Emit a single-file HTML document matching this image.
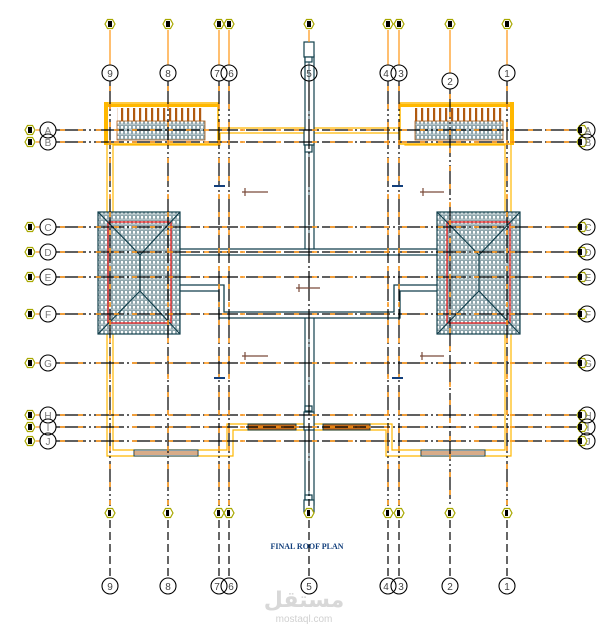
<!DOCTYPE html>
<html><head><meta charset="utf-8"><style>
html,body{margin:0;padding:0;background:#fff;}
svg{display:block;font-family:"Liberation Sans",sans-serif;}
</style></head><body>
<svg width="607" height="634" viewBox="0 0 607 634" xmlns="http://www.w3.org/2000/svg">
<defs>
<pattern id="tile" width="8" height="5" patternUnits="userSpaceOnUse">
<rect width="8" height="5" fill="#e6ecee"/>
<rect x="0.5" y="0.5" width="3" height="3.6" fill="#fff" stroke="#8fa6ad" stroke-width="1"/>
<rect x="4.5" y="0.5" width="3" height="3.6" fill="#fff" stroke="#8fa6ad" stroke-width="1"/>
</pattern>
<pattern id="bars" width="6" height="20" patternUnits="userSpaceOnUse">
<rect x="1" y="0" width="2.2" height="20" fill="#b05a10"/>
</pattern>
</defs>

<!-- yellow walls -->
<g fill="none" stroke="#ffb800" stroke-width="1.2">
<polyline points="218,128 404,128"/>
<polyline points="220,133 220,145 113,145 113,450 227,450 227,424 392,424 392,450 505,450 505,145 405,145 405,133"/>
<polyline points="220,133 405,133"/>
<polyline points="107,145 107,456 233,456 233,430 386,430 386,456 511,456 511,145"/>
</g>

<!-- top boxes -->
<g>
<rect x="105" y="103" width="113" height="41" fill="#fff" stroke="#ffb800" stroke-width="1.5"/>
<rect x="104" y="102" width="4" height="43" fill="#ffb800"/>
<rect x="108" y="104" width="110" height="3" fill="#ffb800"/>
<rect x="117" y="108" width="88" height="13" fill="url(#bars)"/>
<rect x="117" y="121" width="88" height="19" fill="url(#tile)" stroke="#b05a10" stroke-width="0.8"/>
</g>
<g>
<rect x="400" y="103" width="113" height="41" fill="#fff" stroke="#ffb800" stroke-width="1.5"/>
<rect x="510" y="102" width="4" height="43" fill="#ffb800"/>
<rect x="400" y="104" width="110" height="3" fill="#ffb800"/>
<rect x="415" y="108" width="88" height="13" fill="url(#bars)"/>
<rect x="415" y="121" width="88" height="19" fill="url(#tile)" stroke="#b05a10" stroke-width="0.8"/>
</g>

<!-- windows -->
<g>
<rect x="134" y="450" width="64" height="6" fill="#fff" stroke="#123f4c"/>
<line x1="134" y1="452" x2="198" y2="452" stroke="#b05a10"/><line x1="134" y1="454" x2="198" y2="454" stroke="#b05a10"/>
<rect x="421" y="450" width="64" height="6" fill="#fff" stroke="#123f4c"/>
<line x1="421" y1="452" x2="485" y2="452" stroke="#b05a10"/><line x1="421" y1="454" x2="485" y2="454" stroke="#b05a10"/>
<rect x="248" y="424" width="48" height="6" fill="#c26a1a" stroke="#123f4c"/>
<line x1="248" y1="427" x2="296" y2="427" stroke="#000"/>
<rect x="323" y="424" width="47" height="6" fill="#c26a1a" stroke="#123f4c"/>
<line x1="323" y1="427" x2="370" y2="427" stroke="#000"/>
</g>

<!-- central column -->
<g fill="#fff" stroke="#123f4c" stroke-width="1.2">
<rect x="305" y="55" width="9" height="450"/>
<line x1="309" y1="58" x2="309" y2="502" stroke="#123f4c" stroke-width="0.8"/>
<rect x="304" y="42" width="10" height="15"/>
<rect x="305" y="57" width="7" height="5"/>
<rect x="304" y="130" width="10" height="15"/>
<rect x="305" y="145" width="7" height="7"/>
<rect x="305" y="406" width="7" height="5"/>
<rect x="304" y="412" width="10" height="18"/>
<rect x="305" y="495" width="7" height="5"/>
<rect x="304" y="500" width="10" height="12"/>
</g>

<!-- corridor -->
<g fill="none" stroke="#123f4c" stroke-width="1.3">
<polygon points="166,249 452,249 452,291 400,291 400,318 219,318 219,291 166,291" fill="#fff"/>
<polygon points="171,255 447,255 447,285 394,285 394,312 224,312 224,285 171,285"/>
</g>

<!-- tiled blocks -->
<g stroke="#123f4c" fill="none" stroke-width="1.2">
<rect x="98" y="212" width="82" height="122" fill="url(#tile)"/>
<rect x="108" y="222" width="63" height="101" stroke="#ee1111"/>
<polyline points="98,212 140,255 180,212"/><polyline points="98,334 140,291 180,334"/>
<line x1="140" y1="255" x2="140" y2="291"/>
<rect x="437" y="212" width="83" height="122" fill="url(#tile)"/>
<rect x="447" y="222" width="63" height="101" stroke="#ee1111"/>
<polyline points="437,212 479,255 520,212"/><polyline points="437,334 479,291 520,334"/>
<line x1="479" y1="255" x2="479" y2="291"/>
</g>

<!-- grid lines horizontal -->
<g stroke-width="1.2">
<g stroke="#000" stroke-dasharray="30 3 2 3">
<line x1="56" y1="130" x2="578" y2="130"/><line x1="56" y1="142" x2="578" y2="142"/>
<line x1="56" y1="227" x2="578" y2="227"/><line x1="56" y1="252" x2="578" y2="252"/>
<line x1="56" y1="277" x2="578" y2="277"/><line x1="56" y1="314" x2="578" y2="314"/>
<line x1="56" y1="363" x2="578" y2="363"/><line x1="56" y1="415" x2="578" y2="415"/>
<line x1="56" y1="427" x2="578" y2="427"/><line x1="56" y1="441" x2="578" y2="441"/>
</g>
<g stroke="#ff9410" stroke-dasharray="5 13" stroke-width="1.5">
<line x1="60" y1="130" x2="578" y2="130"/><line x1="60" y1="142" x2="578" y2="142"/>
<line x1="60" y1="227" x2="578" y2="227"/><line x1="60" y1="252" x2="578" y2="252"/>
<line x1="60" y1="277" x2="578" y2="277"/><line x1="60" y1="314" x2="578" y2="314"/>
<line x1="60" y1="363" x2="578" y2="363"/><line x1="60" y1="415" x2="578" y2="415"/>
<line x1="60" y1="427" x2="578" y2="427"/><line x1="60" y1="441" x2="578" y2="441"/>
</g>
<g stroke="#ff9410">
<line x1="36" y1="130" x2="40" y2="130"/><line x1="36" y1="142" x2="40" y2="142"/>
<line x1="36" y1="227" x2="40" y2="227"/><line x1="36" y1="252" x2="40" y2="252"/>
<line x1="36" y1="277" x2="40" y2="277"/><line x1="36" y1="314" x2="40" y2="314"/>
<line x1="36" y1="363" x2="40" y2="363"/><line x1="36" y1="415" x2="40" y2="415"/>
<line x1="36" y1="427" x2="40" y2="427"/><line x1="36" y1="441" x2="40" y2="441"/>
</g>
</g>

<!-- vertical grid -->
<g stroke-width="1.2">
<g stroke="#ff9410">
<line x1="110" y1="30" x2="110" y2="65"/><line x1="168" y1="30" x2="168" y2="65"/>
<line x1="219" y1="30" x2="219" y2="65"/><line x1="229" y1="30" x2="229" y2="65"/>
<line x1="309" y1="30" x2="309" y2="42"/><line x1="388" y1="30" x2="388" y2="65"/>
<line x1="399" y1="30" x2="399" y2="65"/><line x1="450" y1="30" x2="450" y2="73"/>
<line x1="507" y1="30" x2="507" y2="65"/>
</g>
<g stroke="#000" stroke-dasharray="30 3 2 3">
<line x1="110" y1="81" x2="110" y2="506"/><line x1="168" y1="81" x2="168" y2="506"/>
<line x1="219" y1="81" x2="219" y2="506"/><line x1="229" y1="81" x2="229" y2="506"/>
<line x1="309" y1="81" x2="309" y2="506"/><line x1="388" y1="81" x2="388" y2="506"/>
<line x1="399" y1="81" x2="399" y2="506"/><line x1="450" y1="89" x2="450" y2="506"/>
<line x1="507" y1="81" x2="507" y2="506"/>
</g>
<g stroke="#ff9410" stroke-dasharray="5 13" stroke-width="1.5">
<line x1="110" y1="86" x2="110" y2="506"/><line x1="168" y1="86" x2="168" y2="506"/>
<line x1="219" y1="86" x2="219" y2="506"/><line x1="229" y1="86" x2="229" y2="506"/>
<line x1="388" y1="86" x2="388" y2="506"/>
<line x1="399" y1="86" x2="399" y2="506"/><line x1="450" y1="94" x2="450" y2="506"/>
<line x1="507" y1="86" x2="507" y2="506"/>
</g>
<g stroke="#000" stroke-dasharray="8 4">
<line x1="110" y1="520" x2="110" y2="578"/><line x1="168" y1="520" x2="168" y2="578"/>
<line x1="219" y1="520" x2="219" y2="578"/><line x1="229" y1="520" x2="229" y2="578"/>
<line x1="309" y1="520" x2="309" y2="578"/><line x1="388" y1="520" x2="388" y2="578"/>
<line x1="399" y1="520" x2="399" y2="578"/><line x1="450" y1="520" x2="450" y2="578"/>
<line x1="507" y1="520" x2="507" y2="578"/>
</g>
</g>

<!-- markers -->
<g stroke="#7a4a3a" stroke-width="1.2">
<line x1="242" y1="192" x2="268" y2="192"/><line x1="245" y1="188" x2="245" y2="196"/>
<line x1="420" y1="192" x2="444" y2="192"/><line x1="423" y1="188" x2="423" y2="196"/>
<line x1="242" y1="356" x2="268" y2="356"/><line x1="245" y1="352" x2="245" y2="360"/>
<line x1="420" y1="356" x2="444" y2="356"/><line x1="422" y1="352" x2="422" y2="360"/>
<line x1="296" y1="288" x2="320" y2="288"/><line x1="299" y1="284" x2="299" y2="292"/>
</g>
<g fill="#123f7c">
<rect x="214" y="185" width="11" height="2"/><rect x="392" y="185" width="11" height="2"/>
<rect x="214" y="377" width="11" height="2"/><rect x="392" y="377" width="11" height="2"/>
</g>

<!-- hex tags -->
<g stroke="#a8a800" fill="#fff" stroke-width="1.2">
<polygon points="105,24 107.5,19.5 112.5,19.5 115,24 112.5,28.5 107.5,28.5"/>
<polygon points="163,24 165.5,19.5 170.5,19.5 173,24 170.5,28.5 165.5,28.5"/>
<polygon points="214,24 216.5,19.5 221.5,19.5 224,24 221.5,28.5 216.5,28.5"/>
<polygon points="224,24 226.5,19.5 231.5,19.5 234,24 231.5,28.5 226.5,28.5"/>
<polygon points="304,24 306.5,19.5 311.5,19.5 314,24 311.5,28.5 306.5,28.5"/>
<polygon points="383,24 385.5,19.5 390.5,19.5 393,24 390.5,28.5 385.5,28.5"/>
<polygon points="394,24 396.5,19.5 401.5,19.5 404,24 401.5,28.5 396.5,28.5"/>
<polygon points="445,24 447.5,19.5 452.5,19.5 455,24 452.5,28.5 447.5,28.5"/>
<polygon points="502,24 504.5,19.5 509.5,19.5 512,24 509.5,28.5 504.5,28.5"/>
<polygon points="105,513 107.5,508.5 112.5,508.5 115,513 112.5,517.5 107.5,517.5"/>
<polygon points="163,513 165.5,508.5 170.5,508.5 173,513 170.5,517.5 165.5,517.5"/>
<polygon points="214,513 216.5,508.5 221.5,508.5 224,513 221.5,517.5 216.5,517.5"/>
<polygon points="224,513 226.5,508.5 231.5,508.5 234,513 231.5,517.5 226.5,517.5"/>
<polygon points="304,513 306.5,508.5 311.5,508.5 314,513 311.5,517.5 306.5,517.5"/>
<polygon points="383,513 385.5,508.5 390.5,508.5 393,513 390.5,517.5 385.5,517.5"/>
<polygon points="394,513 396.5,508.5 401.5,508.5 404,513 401.5,517.5 396.5,517.5"/>
<polygon points="445,513 447.5,508.5 452.5,508.5 455,513 452.5,517.5 447.5,517.5"/>
<polygon points="502,513 504.5,508.5 509.5,508.5 512,513 509.5,517.5 504.5,517.5"/>
<g id="lh">
<polygon points="25,130 27.5,125.5 32.5,125.5 35,130 32.5,134.5 27.5,134.5"/>
<polygon points="25,142 27.5,137.5 32.5,137.5 35,142 32.5,146.5 27.5,146.5"/>
<polygon points="25,227 27.5,222.5 32.5,222.5 35,227 32.5,231.5 27.5,231.5"/>
<polygon points="25,252 27.5,247.5 32.5,247.5 35,252 32.5,256.5 27.5,256.5"/>
<polygon points="25,277 27.5,272.5 32.5,272.5 35,277 32.5,281.5 27.5,281.5"/>
<polygon points="25,314 27.5,309.5 32.5,309.5 35,314 32.5,318.5 27.5,318.5"/>
<polygon points="25,363 27.5,358.5 32.5,358.5 35,363 32.5,367.5 27.5,367.5"/>
<polygon points="25,415 27.5,410.5 32.5,410.5 35,415 32.5,419.5 27.5,419.5"/>
<polygon points="25,427 27.5,422.5 32.5,422.5 35,427 32.5,431.5 27.5,431.5"/>
<polygon points="25,441 27.5,436.5 32.5,436.5 35,441 32.5,445.5 27.5,445.5"/>
</g>
<use href="#lh" x="552"/>
</g>
<g fill="#000">
<rect x="108" y="21" width="4" height="6"/><rect x="166" y="21" width="4" height="6"/><rect x="217" y="21" width="4" height="6"/><rect x="227" y="21" width="4" height="6"/><rect x="307" y="21" width="4" height="6"/><rect x="386" y="21" width="4" height="6"/><rect x="397" y="21" width="4" height="6"/><rect x="448" y="21" width="4" height="6"/><rect x="505" y="21" width="4" height="6"/>
<rect x="108" y="510" width="3" height="6"/><rect x="166" y="510" width="3" height="6"/><rect x="217" y="510" width="3" height="6"/><rect x="227" y="510" width="3" height="6"/><rect x="307" y="510" width="3" height="6"/><rect x="386" y="510" width="3" height="6"/><rect x="397" y="510" width="3" height="6"/><rect x="448" y="510" width="3" height="6"/><rect x="505" y="510" width="3" height="6"/>
</g>
<g fill="#000" id="lhf">
<rect x="28" y="127" width="4" height="6"/><rect x="28" y="139" width="4" height="6"/><rect x="28" y="224" width="4" height="6"/><rect x="28" y="249" width="4" height="6"/><rect x="28" y="274" width="4" height="6"/><rect x="28" y="311" width="4" height="6"/><rect x="28" y="360" width="4" height="6"/><rect x="28" y="412" width="4" height="6"/><rect x="28" y="424" width="4" height="6"/><rect x="28" y="438" width="4" height="6"/>
</g>
<use href="#lhf" x="550"/>

<!-- bubbles -->
<g fill="none" stroke="#000" stroke-width="1.1">
<circle cx="110" cy="73" r="8"/><circle cx="168" cy="73" r="8"/><circle cx="219" cy="73" r="8"/><circle cx="229" cy="73" r="8"/><circle cx="309" cy="73" r="8"/><circle cx="388" cy="73" r="8"/><circle cx="399" cy="73" r="8"/><circle cx="450" cy="81" r="8"/><circle cx="507" cy="73" r="8"/>
<circle cx="110" cy="586" r="8"/><circle cx="168" cy="586" r="8"/><circle cx="219" cy="586" r="8"/><circle cx="229" cy="586" r="8"/><circle cx="309" cy="586" r="8"/><circle cx="388" cy="586" r="8"/><circle cx="399" cy="586" r="8"/><circle cx="450" cy="586" r="8"/><circle cx="507" cy="586" r="8"/>
<circle cx="48" cy="130" r="8"/><circle cx="48" cy="142" r="8"/><circle cx="48" cy="227" r="8"/><circle cx="48" cy="252" r="8"/><circle cx="48" cy="277" r="8"/><circle cx="48" cy="314" r="8"/><circle cx="48" cy="363" r="8"/><circle cx="48" cy="415" r="8"/><circle cx="48" cy="427" r="8"/><circle cx="48" cy="441" r="8"/>
<circle cx="587" cy="130" r="8"/><circle cx="587" cy="142" r="8"/><circle cx="587" cy="227" r="8"/><circle cx="587" cy="252" r="8"/><circle cx="587" cy="277" r="8"/><circle cx="587" cy="314" r="8"/><circle cx="587" cy="363" r="8"/><circle cx="587" cy="415" r="8"/><circle cx="587" cy="427" r="8"/><circle cx="587" cy="441" r="8"/>
</g>
<g font-size="10" fill="#444" text-anchor="middle">
<text x="110" y="77">9</text><text x="168" y="77">8</text><text x="217" y="77">7</text><text x="231" y="77">6</text><text x="309" y="77">5</text><text x="386" y="77">4</text><text x="401" y="77">3</text><text x="450" y="85">2</text><text x="507" y="77">1</text>
<text x="110" y="590">9</text><text x="168" y="590">8</text><text x="217" y="590">7</text><text x="231" y="590">6</text><text x="309" y="590">5</text><text x="386" y="590">4</text><text x="401" y="590">3</text><text x="450" y="590">2</text><text x="507" y="590">1</text>
<g fill="#777">
<text x="48" y="134">A</text><text x="48" y="146">B</text><text x="48" y="231">C</text><text x="48" y="256">D</text><text x="48" y="281">E</text><text x="48" y="318">F</text><text x="48" y="367">G</text><text x="48" y="419">H</text><text x="48" y="431">I</text><text x="48" y="445">J</text>
<text x="588" y="134">A</text><text x="588" y="146">B</text><text x="588" y="231">C</text><text x="588" y="256">D</text><text x="588" y="281">E</text><text x="588" y="318">F</text><text x="588" y="367">G</text><text x="588" y="419">H</text><text x="588" y="431">I</text><text x="588" y="445">J</text>
</g>
</g>

<text x="307" y="549" font-size="8" font-weight="bold" fill="#123f7c" text-anchor="middle" font-family="Liberation Serif, serif">FINAL ROOF PLAN</text>

<text x="304" y="607" font-size="22" font-weight="bold" fill="#d8d8d8" text-anchor="middle" font-family="DejaVu Sans, sans-serif">مستقل</text>
<text x="304" y="622" font-size="10" fill="#d0d0d0" text-anchor="middle">mostaql.com</text>
</svg>
</body></html>
